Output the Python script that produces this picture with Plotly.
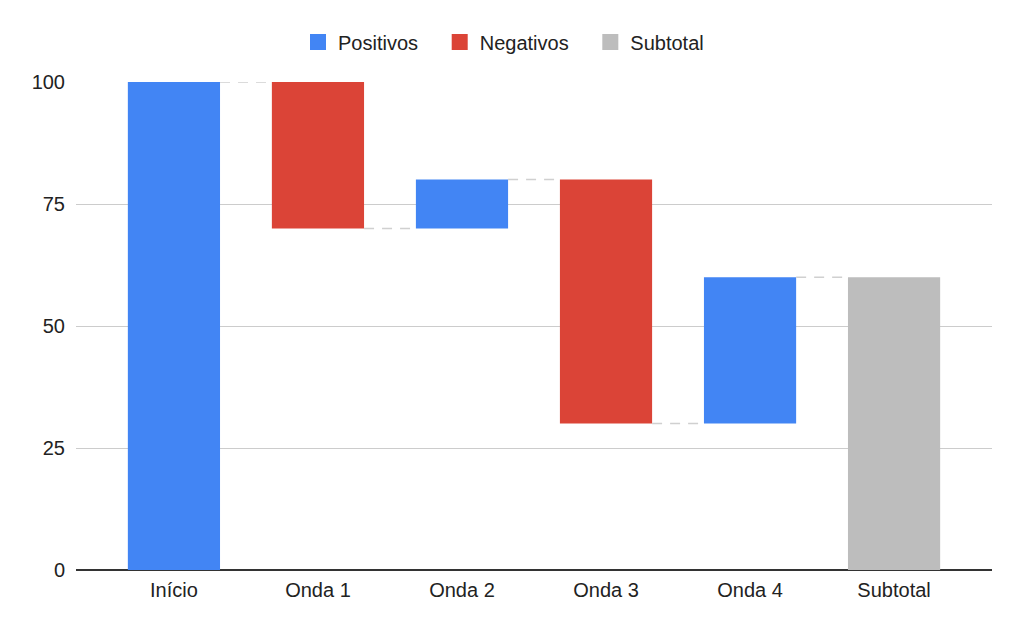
import plotly.graph_objects as go

categories = ["Início", "Onda 1", "Onda 2", "Onda 3", "Onda 4", "Subtotal"]
deltas = [100, -30, 10, -50, 30]
y_ticks = [0, 25, 50, 75, 100]
legend_names = ["Positivos", "Negativos", "Subtotal"]

BLUE = "#4285F4"
RED = "#DB4437"
GREY = "#BDBDBD"
HALF = 0.32

levels = []
run = 0
bases, heights = [], []
for d in deltas:
    start = run
    run += d
    bases.append(min(start, run))
    heights.append(abs(d))
    levels.append(run)
subtotal = run

xs = list(range(len(categories)))

pos_x = [xs[i] for i, d in enumerate(deltas) if d >= 0]
pos_b = [bases[i] for i, d in enumerate(deltas) if d >= 0]
pos_h = [heights[i] for i, d in enumerate(deltas) if d >= 0]
neg_x = [xs[i] for i, d in enumerate(deltas) if d < 0]
neg_b = [bases[i] for i, d in enumerate(deltas) if d < 0]
neg_h = [heights[i] for i, d in enumerate(deltas) if d < 0]

fig = go.Figure()

cx, cy = [], []
for i, lvl in enumerate(levels):
    cx += [xs[i] + HALF, xs[i + 1] - HALF, None]
    cy += [lvl, lvl, None]
fig.add_trace(go.Scatter(x=cx, y=cy, mode="lines", showlegend=False, hoverinfo="skip",
                         line=dict(color="#D0D0D0", width=1.5, dash="10px,8px")))

fig.add_trace(go.Bar(name=legend_names[0], x=pos_x, y=pos_h, base=pos_b, marker_color=BLUE,
                     marker_line_width=0, width=2 * HALF, showlegend=False))
fig.add_trace(go.Bar(name=legend_names[1], x=neg_x, y=neg_h, base=neg_b, marker_color=RED,
                     marker_line_width=0, width=2 * HALF, showlegend=False))
fig.add_trace(go.Bar(name=legend_names[2], x=[xs[-1]], y=[subtotal], base=[0], marker_color=GREY,
                     marker_line_width=0, width=2 * HALF, showlegend=False))

for name, col in zip(legend_names, [BLUE, RED, GREY]):
    fig.add_trace(go.Scatter(name=name + "\u00a0\u00a0\u00a0", x=[None], y=[None], mode="markers",
                             marker=dict(symbol="square", size=16, color=col)))

fig.update_layout(
    width=1024, height=633,
    margin=dict(l=68, r=40, t=74, b=71),
    paper_bgcolor="white", plot_bgcolor="white",
    barmode="overlay",
    font=dict(family="Liberation Sans, Arial, sans-serif", size=20, color="#222222"),
    legend=dict(orientation="h", x=(298 - 76) / 916, xanchor="left", y=1.082, yanchor="middle",
                font=dict(size=20, color="#222222"), itemsizing="trace", traceorder="normal"),
    xaxis=dict(range=[-0.68, 5.68], tickmode="array", tickvals=xs, ticktext=categories,
               showgrid=False, zeroline=False, showline=False, ticks="",
               ticklabelstandoff=6,
               tickfont=dict(size=20, color="#222222")),
    yaxis=dict(range=[0, 100], tickvals=y_ticks, showgrid=True, gridcolor="#CCCCCC",
               gridwidth=1, zeroline=True, zerolinecolor="#333333", zerolinewidth=1.5,
               showline=False, ticks="", ticklabelstandoff=10,
               tickfont=dict(size=20, color="#222222")),
)

fig.write_html("out.html")
